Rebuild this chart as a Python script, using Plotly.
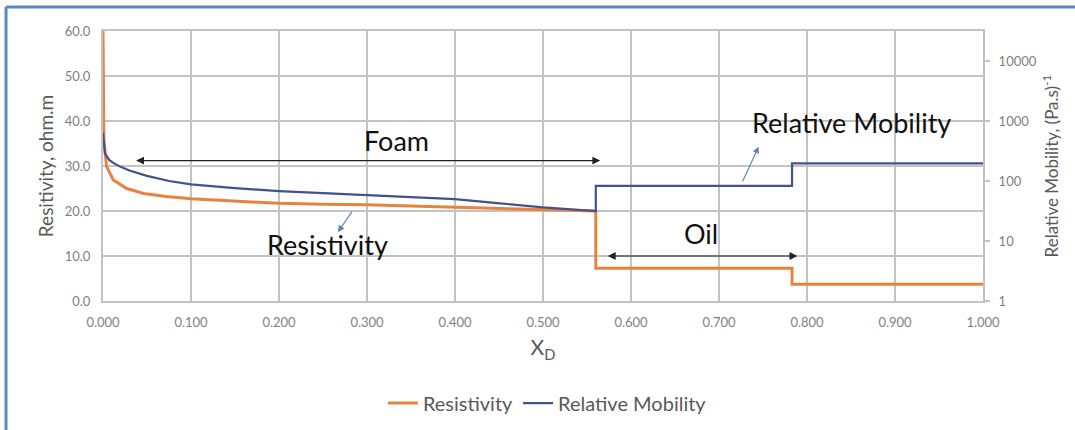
import plotly.graph_objects as go

# ---------------- data ----------------
res_x = [0.0, 0.0003, 0.001, 0.004, 0.0117, 0.027, 0.046, 0.072, 0.1, 0.148, 0.2,
         0.25, 0.3, 0.35, 0.4, 0.45, 0.5, 0.56, 0.56, 0.783, 0.783, 1.0]
res_y = [60.0, 40.0, 35.8, 29.9, 26.9, 25.0, 23.9, 23.2, 22.7, 22.2, 21.7,
         21.5, 21.4, 21.1, 20.8, 20.5, 20.2, 20.0, 7.3, 7.3, 3.7, 3.7]

mob_x = [0.0, 0.0023, 0.007, 0.0117, 0.02, 0.03, 0.05, 0.075, 0.1, 0.15, 0.2, 0.3,
         0.4, 0.451, 0.5, 0.56, 0.56, 0.783, 0.783, 1.0]
mob_y = [640, 288, 225, 200, 172, 150, 122, 100, 88, 76, 68, 58.5,
         50, 42.5, 36.3, 31.6, 83, 83, 197, 197]

x_ticks = [0.0, 0.1, 0.2, 0.3, 0.4, 0.5, 0.6, 0.7, 0.8, 0.9, 1.0]
left_ticks = [0, 10, 20, 30, 40, 50, 60]
right_ticks = [1, 10, 100, 1000, 10000]
right_tick_text = ["1", "10", "100", "1000", "10000"]

# ---------------- styling ----------------
ORANGE = "#E8823F"
NAVY = "#42528A"
GRID = "#C3C3C3"
TXT = "#595959"
TICK = "#7F7F7F"
FONT = "Lato, 'Open Sans', sans-serif"

fig = go.Figure()
fig.add_trace(go.Scatter(x=res_x, y=res_y, mode="lines", name="Resistivity",
                         line=dict(color=ORANGE, width=3)))
fig.add_trace(go.Scatter(x=mob_x, y=mob_y, mode="lines", name="Relative Mobility",
                         yaxis="y2", line=dict(color=NAVY, width=2.2)))

fig.update_layout(
    width=1075, height=430,
    margin=dict(l=103, r=92, t=31, b=129, autoexpand=False),
    paper_bgcolor="white", plot_bgcolor="white",
    font=dict(family=FONT, color=TXT),
    showlegend=True,
    legend=dict(orientation="h", x=0.505, y=-0.378, xanchor="center", yanchor="middle",
                font=dict(size=20, color=TXT), itemwidth=30,
                traceorder="normal"),
    xaxis=dict(range=[0, 1], tickvals=x_ticks, tickformat=".3f",
               showgrid=True, gridcolor=GRID, gridwidth=2,
               showline=True, linecolor=GRID, linewidth=2, mirror=True,
               zeroline=False, ticks="", ticklabelstandoff=8,
               tickfont=dict(size=13, color=TICK),
               title=dict(text="X<sub>D</sub>", font=dict(size=21, color=TXT), standoff=12)),
    yaxis=dict(range=[0, 60], tickvals=left_ticks, tickformat=".1f",
               showgrid=True, gridcolor=GRID, gridwidth=2,
               showline=True, linecolor=GRID, linewidth=2,
               zeroline=False, ticks="", ticklabelstandoff=8,
               tickfont=dict(size=13, color=TICK),
               title=dict(text="Resitivity, ohm.m", font=dict(size=19, color=TXT), standoff=6)),
    yaxis2=dict(type="log", range=[0, 4.5], overlaying="y", side="right",
                tickvals=right_ticks, ticktext=right_tick_text,
                showgrid=False, showline=True, linecolor=GRID, linewidth=2,
                zeroline=False, ticks="outside", ticklen=5, tickcolor=GRID, tickwidth=1.5,
                ticklabelstandoff=6,
                tickfont=dict(size=13, color=TICK),
                title=dict(text="Relative Mobility, (Pa.s)<sup>-1</sup>",
                           font=dict(size=17, color=TXT), standoff=10)),
)

ann = []
# text labels
for txt, x, y in [("Foam", 0.334, 35.6), ("Oil", 0.679, 15.1),
                  ("Relative Mobility", 0.851, 39.7), ("Resistivity", 0.255, 12.5)]:
    ann.append(dict(text=txt, x=x, y=y, xref="x", yref="y", showarrow=False,
                    font=dict(size=27, color="#111111", family=FONT),
                    xanchor="center", yanchor="middle"))
# double arrows
ann.append(dict(x=0.565, y=31.2, ax=0.036, ay=31.2, xref="x", yref="y", axref="x", ayref="y",
                text="", showarrow=True, arrowhead=2, arrowside="end+start",
                arrowsize=1.3, arrowwidth=1.2, arrowcolor="#222222"))
ann.append(dict(x=0.789, y=10.0, ax=0.572, ay=10.0, xref="x", yref="y", axref="x", ayref="y",
                text="", showarrow=True, arrowhead=2, arrowside="end+start",
                arrowsize=1.3, arrowwidth=1.2, arrowcolor="#222222"))
# pointer arrows
ann.append(dict(x=0.267, y=15.3, ax=0.284, ay=20.2, xref="x", yref="y", axref="x", ayref="y",
                text="", showarrow=True, arrowhead=2, arrowsize=1.2, arrowwidth=1.1,
                arrowcolor="#5B7EC2"))
ann.append(dict(x=0.745, y=34.3, ax=0.726, ay=26.2, xref="x", yref="y", axref="x", ayref="y",
                text="", showarrow=True, arrowhead=2, arrowsize=1.2, arrowwidth=1.1,
                arrowcolor="#5B7EC2"))
fig.update_layout(annotations=ann)

# outer blue frame (only top and left visible in the picture)
fig.add_shape(type="line", xref="paper", yref="paper", x0=-0.1102, x1=1.2, y0=1.0889, y1=1.0889,
              line=dict(color="#5A8AC6", width=3))
fig.add_shape(type="line", xref="paper", yref="paper", x0=-0.1102, x1=-0.1102, y0=1.0889, y1=-0.6,
              line=dict(color="#5A8AC6", width=3))

fig.write_html("out.html")
